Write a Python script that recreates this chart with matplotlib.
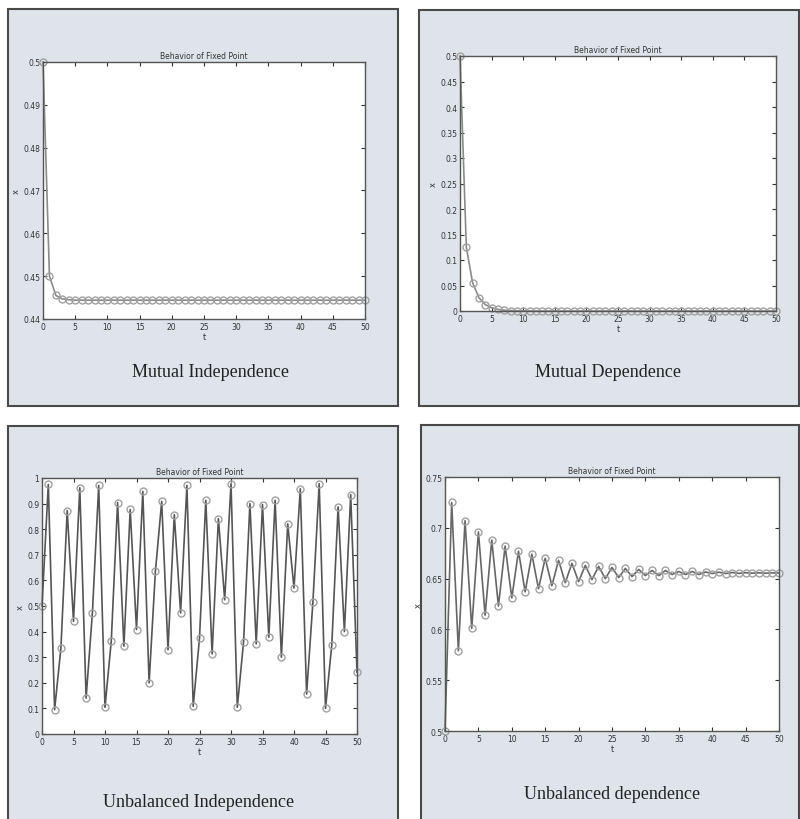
import numpy as np
import matplotlib
matplotlib.use("Agg")
import matplotlib.pyplot as plt
from matplotlib.patches import Rectangle

# values (t = 0..50)
t = np.arange(51)

mutual_indep = [0.5, 0.45, 0.4455, 0.4447, 0.4445, 0.4444, 0.4444, 0.4444, 0.4444, 0.4444,
                0.4444, 0.4444, 0.4444, 0.4444, 0.4444, 0.4444, 0.4444, 0.4444, 0.4444, 0.4444,
                0.4444, 0.4444, 0.4444, 0.4444, 0.4444, 0.4444, 0.4444, 0.4444, 0.4444, 0.4444,
                0.4444, 0.4444, 0.4444, 0.4444, 0.4444, 0.4444, 0.4444, 0.4444, 0.4444, 0.4444,
                0.4444, 0.4444, 0.4444, 0.4444, 0.4444, 0.4444, 0.4444, 0.4444, 0.4444, 0.4444,
                0.4444]

mutual_dep = [0.5, 0.125, 0.055, 0.026, 0.0126, 0.0062, 0.0031, 0.0015, 0.0008, 0.0004,
              0.0002, 0.0001, 0.0, 0.0, 0.0, 0.0, 0.0, 0.0, 0.0, 0.0,
              0.0, 0.0, 0.0, 0.0, 0.0, 0.0, 0.0, 0.0, 0.0, 0.0,
              0.0, 0.0, 0.0, 0.0, 0.0, 0.0, 0.0, 0.0, 0.0, 0.0,
              0.0, 0.0, 0.0, 0.0, 0.0, 0.0, 0.0, 0.0, 0.0, 0.0,
              0.0]

unbal_indep = [0.5, 0.975, 0.095, 0.335, 0.873, 0.44, 0.962, 0.14, 0.473, 0.971,
               0.104, 0.365, 0.904, 0.343, 0.877, 0.408, 0.948, 0.2, 0.635, 0.909,
               0.329, 0.857, 0.473, 0.971, 0.108, 0.374, 0.913, 0.313, 0.841, 0.524,
               0.978, 0.104, 0.361, 0.9, 0.352, 0.896, 0.378, 0.913, 0.3, 0.821,
               0.57, 0.958, 0.156, 0.515, 0.978, 0.1, 0.348, 0.887, 0.4, 0.935,
               0.241]

unbal_dep = [0.5, 0.725, 0.579, 0.707, 0.601, 0.696, 0.614, 0.688, 0.623, 0.682,
             0.631, 0.677, 0.637, 0.674, 0.640, 0.670, 0.643, 0.668, 0.646, 0.665,
             0.647, 0.663, 0.649, 0.662, 0.650, 0.661, 0.651, 0.660, 0.652, 0.659,
             0.653, 0.658, 0.653, 0.658, 0.654, 0.657, 0.654, 0.657, 0.654, 0.6565,
             0.655, 0.6563, 0.655, 0.656, 0.6552, 0.6558, 0.6553, 0.6557, 0.6553, 0.6556,
             0.6555]

captions = ["Mutual Independence", "Mutual Dependence",
            "Unbalanced Independence", "Unbalanced dependence"]

W, H = 800, 820
fig = plt.figure(figsize=(8, 8.2), dpi=100)
fig.patch.set_facecolor("white")

def fx(px):
    return px / W

def fy(py):
    return 1 - py / H

# grey panel frames (pixel boxes: left, top, right, bottom)
frames = [(8, 10, 398, 407), (419, 11, 799, 407),
          (8, 427, 398, 822), (421, 426, 799, 822)]
for l, tp, r, b in frames:
    fig.add_artist(Rectangle((fx(l), fy(b)), fx(r - l), (b - tp) / H,
                             transform=fig.transFigure, facecolor="#dfe4ea",
                             edgecolor="#4a4a4a", linewidth=1.5, zorder=-5))

# axes boxes in pixels (left, top, right, bottom)
boxes = [(43, 63, 365, 320), (460, 57, 776, 312),
         (42, 479, 357, 735), (445, 478, 779, 732)]
cap_pos = [(210, 373), (608, 373), (199, 803), (612, 795)]

series = [mutual_indep, mutual_dep, unbal_indep, unbal_dep]
ylims = [(0.44, 0.5), (0, 0.5), (0, 1), (0.5, 0.75)]
yticks = [np.arange(0.44, 0.5001, 0.01), np.arange(0, 0.5001, 0.05),
          np.arange(0, 1.0001, 0.1), np.arange(0.5, 0.7501, 0.05)]
ytick_labels = [["0.44", "0.45", "0.46", "0.47", "0.48", "0.49", "0.5"],
                ["0", "0.05", "0.1", "0.15", "0.2", "0.25", "0.3", "0.35", "0.4", "0.45", "0.5"],
                ["0", "0.1", "0.2", "0.3", "0.4", "0.5", "0.6", "0.7", "0.8", "0.9", "1"],
                ["0.5", "0.55", "0.6", "0.65", "0.7", "0.75"]]
line_cols = ["#8a8a8a", "#8a8a8a", "#555555", "#666666"]

for i, (l, tp, r, b) in enumerate(boxes):
    ax = fig.add_axes([fx(l), fy(b), fx(r - l), (b - tp) / H])
    ax.set_facecolor("white")
    ax.plot(t, series[i], color=line_cols[i], linewidth=1.2, marker="o",
            markersize=5, markerfacecolor="none", markeredgecolor="#a0a0a0",
            markeredgewidth=1.0, clip_on=False)
    ax.set_xlim(0, 50)
    ax.set_ylim(*ylims[i])
    ax.set_xticks(np.arange(0, 51, 5))
    ax.set_yticks(yticks[i])
    ax.set_yticklabels(ytick_labels[i])
    ax.tick_params(direction="in", length=3, width=0.8, labelsize=5.5,
                   top=True, right=True, pad=2, colors="#333333")
    for s in ax.spines.values():
        s.set_color("#555555")
        s.set_linewidth(1.0)
    ax.set_title("Behavior of Fixed Point", fontsize=5.5, pad=3, color="#333333")
    ax.set_xlabel("t", fontsize=6, labelpad=1, color="#333333")
    ax.set_ylabel("x", fontsize=6, labelpad=2, color="#333333")
    cx, cy = cap_pos[i]
    fig.text(fx(cx), fy(cy), captions[i], ha="center", va="center",
             fontsize=13, family="Liberation Serif", color="#222222")

fig.savefig("out.png", dpi=100, facecolor="white")
